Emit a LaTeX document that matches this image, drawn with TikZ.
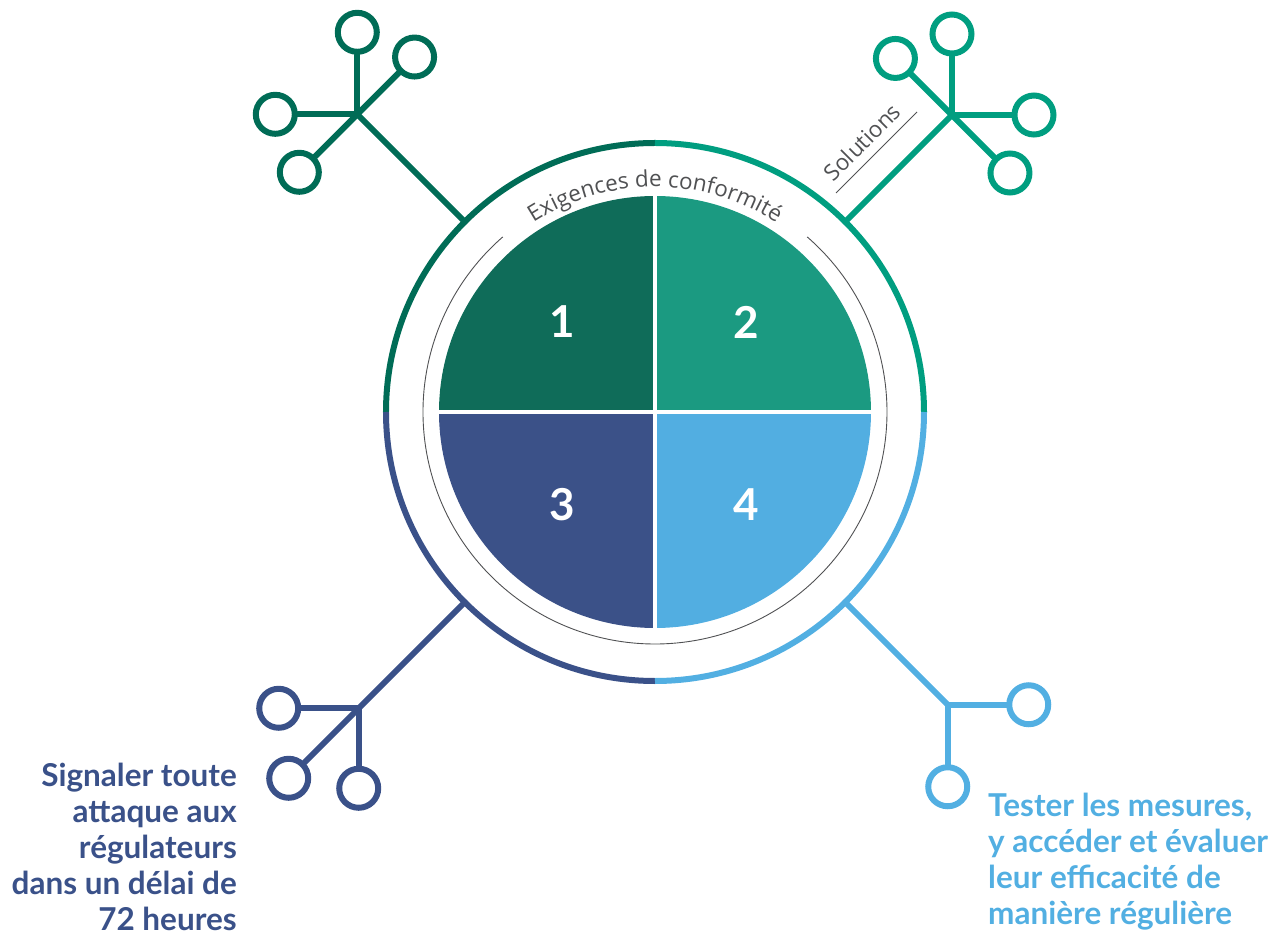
\documentclass[tikz,border=0pt]{standalone}
\usepackage{fontspec}
\setmainfont{Lato}
\newfontfamily\opensans{Open Sans}
\usetikzlibrary{decorations.text,calc}
\definecolor{q1}{HTML}{0F6C59}
\definecolor{q2}{HTML}{1B9A81}
\definecolor{q3}{HTML}{3B5188}
\definecolor{q4}{HTML}{52AEE1}
\definecolor{l1}{HTML}{006C56}
\definecolor{l2}{HTML}{009E80}
\definecolor{l3}{HTML}{3A5189}
\definecolor{l4}{HTML}{52AFE2}
\definecolor{tgrey}{HTML}{505153}
\begin{document}
\begin{tikzpicture}[x=1pt,y=1pt,
  ring/.style={line width=6pt},
  link/.style={line width=6pt, line cap=round},
  leaf/.style={circle, draw, line width=6pt, minimum size=39pt, inner sep=0pt},
  num/.style={text=white, font=\fontsize{44}{44}\selectfont\bfseries},
  label/.style={inner sep=0pt, font=\bfseries\fontsize{31.5}{36}\selectfont},
  thinline/.style={draw=tgrey, line width=0.9pt}]
\useasboundingbox (-655,-519) rectangle (616,412);
\coordinate (O) at (0,0);
% pie
\fill[q1] (O) -- (180:216) arc[start angle=180,end angle=90,radius=216] -- cycle;
\fill[q2] (O) -- (90:216) arc[start angle=90,end angle=0,radius=216] -- cycle;
\fill[q3] (O) -- (180:216) arc[start angle=180,end angle=270,radius=216] -- cycle;
\fill[q4] (O) -- (270:216) arc[start angle=270,end angle=360,radius=216] -- cycle;
\draw[white, line width=4pt] (-220,0) -- (220,0) (0,-220) -- (0,220);
\node[num] (n1) at (-93,90) {1};
\node[num] (n2) at (91,90) {2};
\node[num] (n3) at (-93,-93) {3};
\node[num] (n4) at (91,-93) {4};
% thin circle
\draw[thinline] (49:232) arc[start angle=49,end angle=-229,radius=232];
% ring
\draw[ring,l1] (180:269) arc[start angle=180,end angle=90,radius=269];
\draw[ring,l2] (90:269) arc[start angle=90,end angle=0,radius=269];
\draw[ring,l3] (180:269) arc[start angle=180,end angle=270,radius=269];
\draw[ring,l4] (270:269) arc[start angle=270,end angle=360,radius=269];
% curved title
\path[decorate, decoration={text along path, text align=center, text color=tgrey,
  text={|\opensans\fontsize{22.5}{22.5}\selectfont|Exigences de conformité}}]
  (126:225) arc[start angle=126,end angle=54,radius=225];
% top-left
\coordinate (rTL) at (135:269);
\coordinate (hTL) at (135:421);
\draw[link,l1] (rTL) -- (hTL);
\node[leaf,draw=l1] (tl1) at ($(hTL)+(0,82)$) {};
\node[leaf,draw=l1] (tl2) at ($(hTL)+(45:81)$) {};
\node[leaf,draw=l1] (tl3) at ($(hTL)+(-82,0)$) {};
\node[leaf,draw=l1] (tl4) at ($(hTL)+(225:82)$) {};
\foreach \n in {tl1,tl2,tl3,tl4} \draw[link,l1] (hTL) -- (\n);
% top-right
\coordinate (rTR) at (45:269);
\coordinate (hTR) at (45:420);
\draw[link,l2] (rTR) -- (hTR);
\node[leaf,draw=l2] (tr1) at ($(hTR)+(0,81)$) {};
\node[leaf,draw=l2] (tr2) at ($(hTR)+(135:80)$) {};
\node[leaf,draw=l2] (tr3) at ($(hTR)+(82,0)$) {};
\node[leaf,draw=l2] (tr4) at ($(hTR)+(-45:82)$) {};
\foreach \n in {tr1,tr2,tr3,tr4} \draw[link,l2] (hTR) -- (\n);
% solutions label
\coordinate (s1) at (181,219);
\coordinate (s2) at (262,300);
\draw[thinline] (s1) -- (s2);
\node[rotate=45, anchor=base, inner sep=0pt, text=tgrey, font=\opensans\fontsize{22.5}{22.5}\selectfont] (sol) at (213,264) {Solutions};
% bottom-left
\coordinate (rBL) at (225:269);
\coordinate (hBL) at (225:419);
\draw[link,l3] (rBL) -- (hBL);
\node[leaf,draw=l3] (bl1) at ($(hBL)+(-80,0)$) {};
\node[leaf,draw=l3] (bl2) at ($(hBL)+(225:99)$) {};
\node[leaf,draw=l3] (bl3) at ($(hBL)+(0,-80)$) {};
\foreach \n in {bl1,bl2,bl3} \draw[link,l3] (hBL) -- (\n);
% bottom-right
\coordinate (rBR) at (-45:269);
\coordinate (hBR) at (-45:414);
\draw[link,l4] (rBR) -- (hBR);
\node[leaf,draw=l4] (br1) at ($(hBR)+(81,0)$) {};
\node[leaf,draw=l4] (br2) at ($(hBR)+(0,-82)$) {};
\foreach \n in {br1,br2} \draw[link,l4] (hBR) -- (\n);
% labels
\node[label, anchor=north east, align=right, text=l3] (lt) at (-418,-351)
  {Signaler toute\\attaque aux\\régulateurs\\dans un délai de\\72 heures};
\node[label, anchor=north west, align=left, text=l4] (rt) at (333,-381)
  {Tester les mesures,\\y accéder et évaluer\\leur efficacité de\\manière régulière};
\end{tikzpicture}
\end{document}
